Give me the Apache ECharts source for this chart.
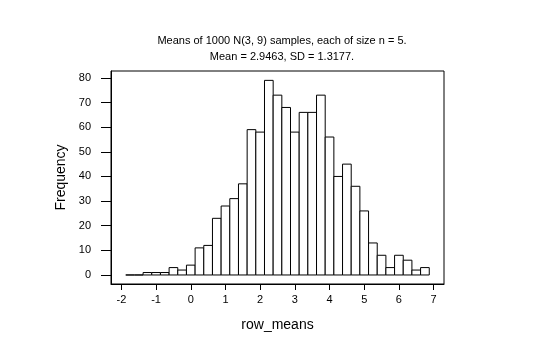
<!DOCTYPE html>
<html><head><meta charset="utf-8">
<script src="https://cdn.jsdelivr.net/npm/echarts@6/dist/echarts.min.js"></script>
<style>html,body{margin:0;padding:0;background:#fff}#c{width:556px;height:356px}</style>
</head><body><div id="c"></div>
<script>
const titleLines = ["Means of 1000 N(3, 9) samples, each of size n = 5.", "Mean = 2.9463, SD = 1.3177."];
const binCenters = [-1.75,-1.5,-1.25,-1,-0.75,-0.5,-0.25,0,0.25,0.5,0.75,1,1.25,1.5,1.75,2,2.25,2.5,2.75,3,3.25,3.5,3.75,4,4.25,4.5,4.75,5,5.25,5.5,5.75,6,6.25,6.5,6.75];
const counts = [0,0,1,1,1,3,2,4,11,12,23,28,31,37,59,58,79,73,68,58,66,66,73,56,40,45,36,26,13,8,3,8,6,2,3];
const binWidth = 0.25;
const xTicks = [-2,-1,0,1,2,3,4,5,6,7];
const yTicks = [0,10,20,30,40,50,60,70,80];
const xName = "row_means";
const yName = "Frequency";

const data = binCenters.map((c,i)=>[c-binWidth/2, c+binWidth/2, counts[i]]);
const chart = echarts.init(document.getElementById('c'));
const font = "'Liberation Sans', Arial, sans-serif";
chart.setOption({
  animation:false,
  backgroundColor:'#fff',
  title:{text:titleLines.join('\n'), left:277, top:28, textAlign:'center',
    textStyle:{fontFamily:font,fontSize:11,fontWeight:'normal',color:'#000',lineHeight:16}},
  grid:{left:111,top:71,width:333,height:213,show:true,borderColor:'#000',borderWidth:1,backgroundColor:'#fff'},
  xAxis:{type:'value',min:-2.3,max:7.3,
    name:xName,nameLocation:'middle',nameGap:34,
    nameTextStyle:{fontFamily:font,fontSize:14,color:'#000'},
    axisLine:{show:true,onZero:false,lineStyle:{color:'#000',width:1}},
    axisTick:{show:true,length:6,customValues:xTicks,lineStyle:{color:'#000'}},
    axisLabel:{customValues:xTicks,fontFamily:font,fontSize:11,color:'#000',margin:10},
    splitLine:{show:false}},
  yAxis:{type:'value',min:-3.66,max:82.8,
    name:yName,nameLocation:'middle',nameGap:42,nameRotate:90,
    nameTextStyle:{fontFamily:font,fontSize:14,color:'#000'},
    axisLine:{show:true,onZero:false,lineStyle:{color:'#000',width:1}},
    axisTick:{show:true,length:10,customValues:yTicks,lineStyle:{color:'#000'}},
    axisLabel:{customValues:yTicks,fontFamily:font,fontSize:11,color:'#000',margin:20},
    splitLine:{show:false}},
  series:[{type:'custom',data:data,
    encode:{x:[0,1],y:2},
    renderItem:function(params,api){
      const lo=api.value(0), hi=api.value(1), h=api.value(2);
      const p0=api.coord([lo,0]), p1=api.coord([lo,h]), p2=api.coord([hi,h]), p3=api.coord([hi,0]);
      return {type:'polygon',shape:{points:[p0,p1,p2,p3]},
        style:{fill:'#fff',stroke:'#000',lineWidth:1}};
    }}]
});
</script></body></html>
